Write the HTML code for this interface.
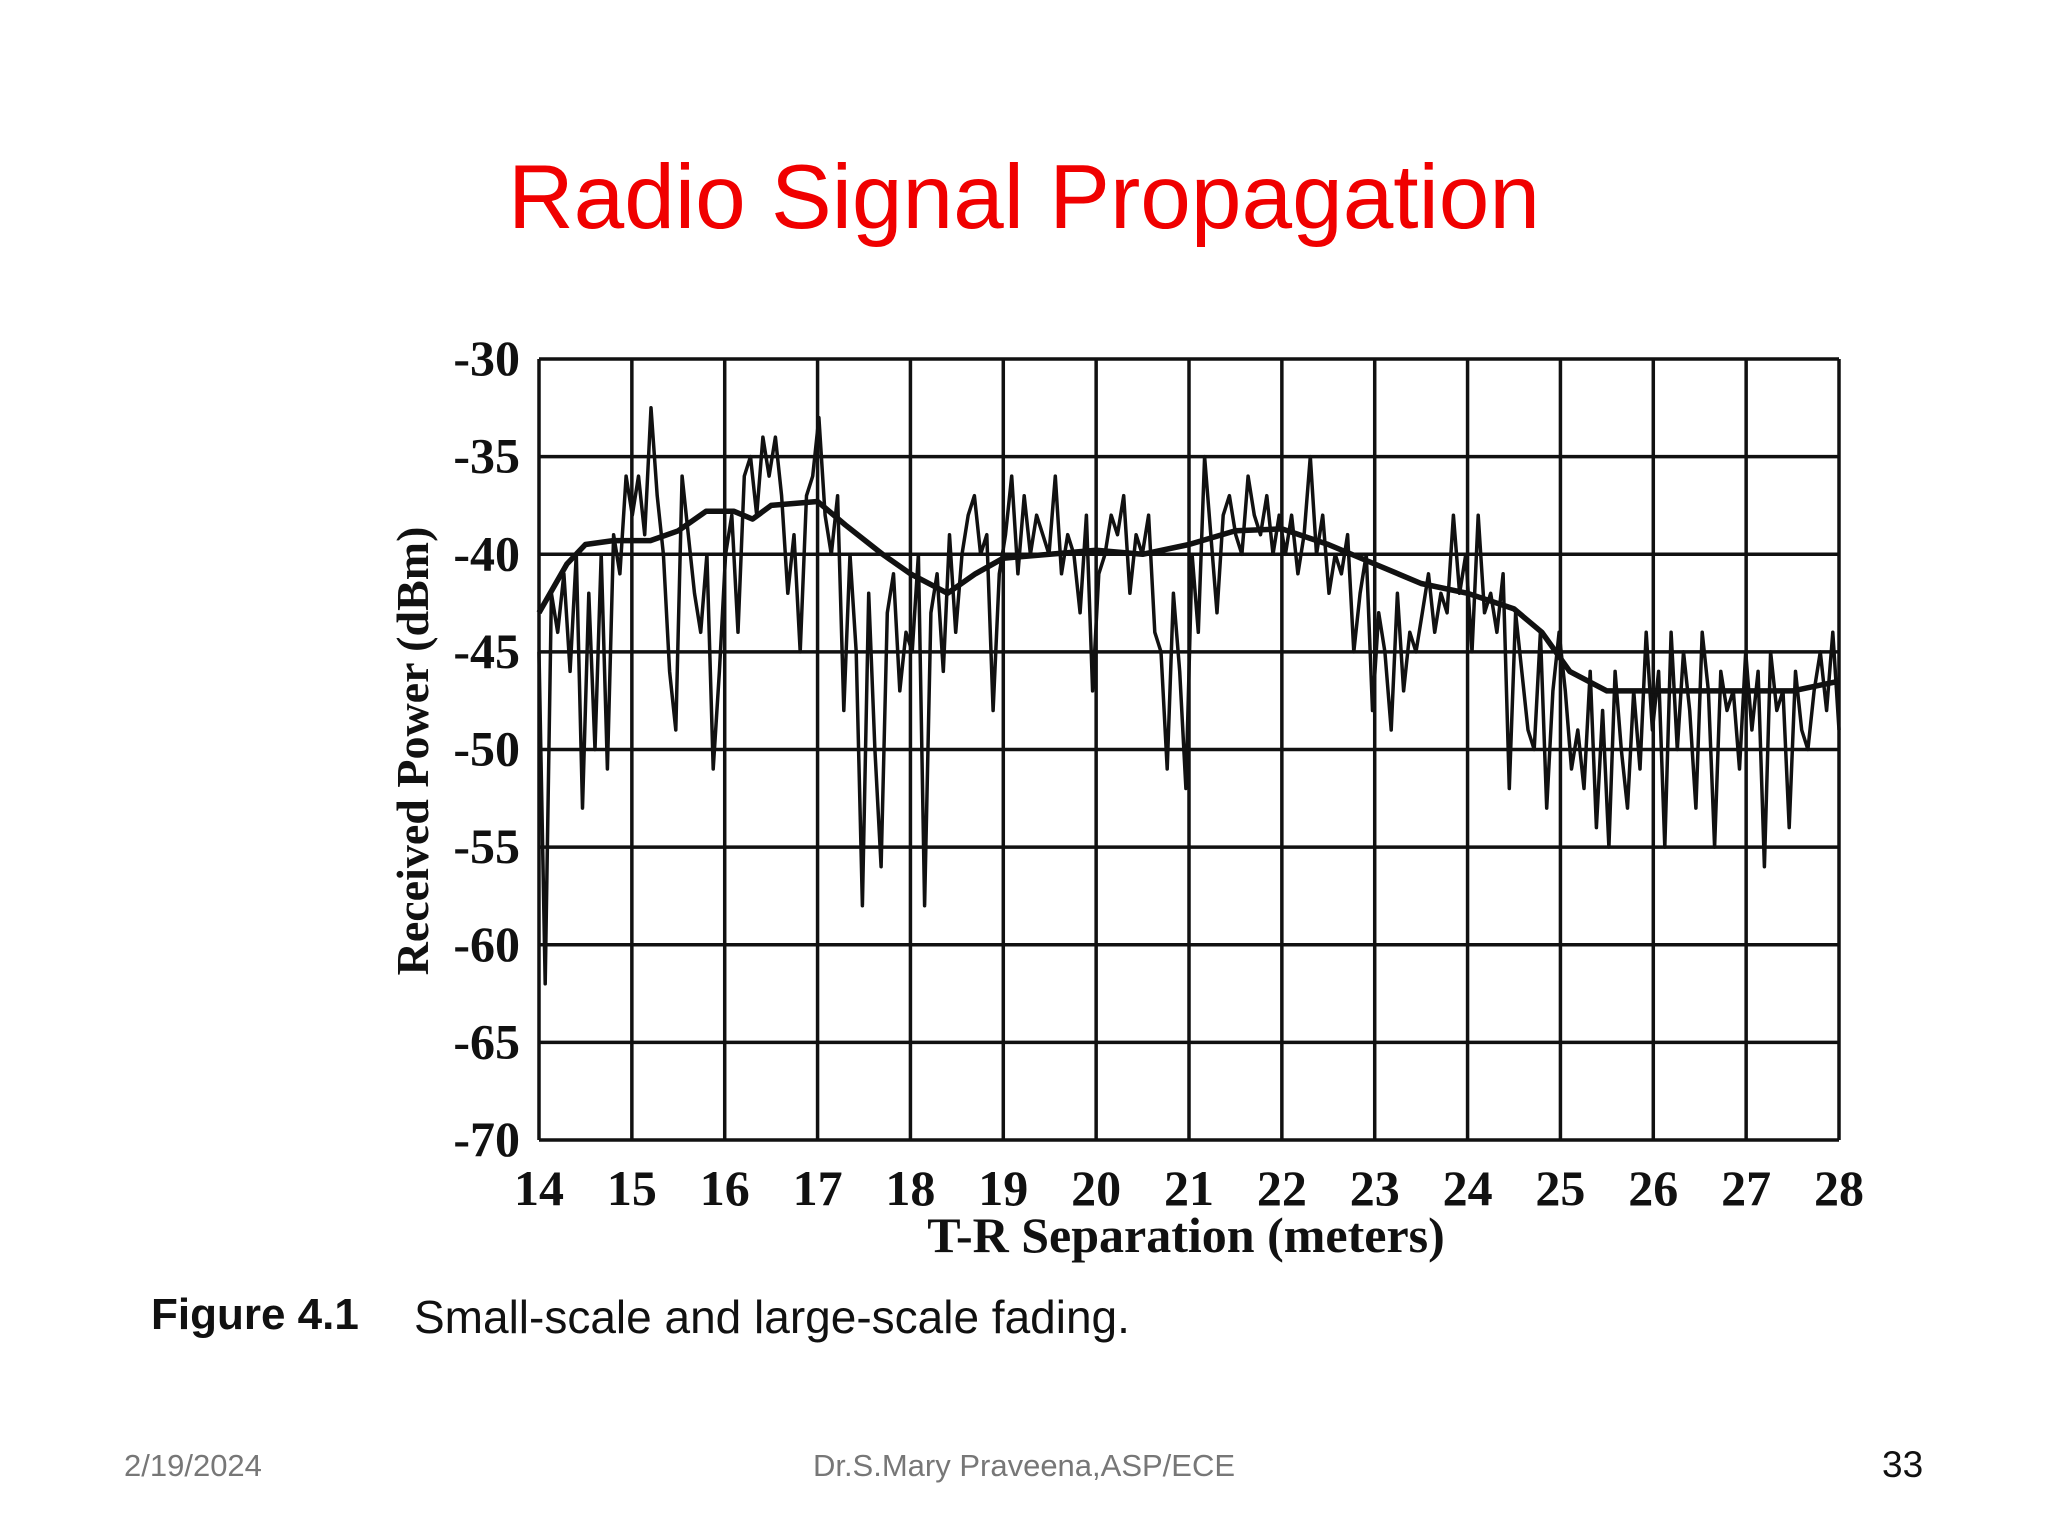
<!DOCTYPE html>
<html><head><meta charset="utf-8">
<style>
html,body{margin:0;padding:0;background:#fff;}
body{width:2048px;height:1536px;position:relative;overflow:hidden;font-family:"Liberation Sans",sans-serif;}
.abs{position:absolute;}
</style></head>
<body>
<div class="abs" style="left:0;width:2048px;top:143px;text-align:center;color:#f00000;font-size:91px;line-height:110px;">Radio Signal Propagation</div>
<svg id="chart" class="abs" style="left:0;top:0" width="2048" height="1536"></svg>
<div class="abs" style="left:151px;top:1290px;font-size:44px;font-weight:bold;color:#111;">Figure 4.1</div>
<div class="abs" style="left:414px;top:1290px;font-size:46px;color:#111;">Small-scale and large-scale fading.</div>
<div class="abs" style="left:124px;top:1448px;font-size:31px;color:#777;">2/19/2024</div>
<div class="abs" style="left:0;width:2048px;text-align:center;top:1448px;font-size:31px;color:#777;">Dr.S.Mary Praveena,ASP/ECE</div>
<div class="abs" style="left:1882px;top:1444px;font-size:37px;color:#111;">33</div>
<script>
const xTicks=[14,15,16,17,18,19,20,21,22,23,24,25,26,27,28];
const yTicks=[-30,-35,-40,-45,-50,-55,-60,-65,-70];
const fastPower=[-45,-62,-42,-44,-41,-46,-40,-53,-42,-50,-40,-51,-39,-41,-36,
-38,-36,-39,-32.5,-37,-40,-46,-49,-36,-39,-42,-44,-40,-51,-46,
-40,-38,-44,-36,-35,-38,-34,-36,-34,-37,-42,-39,-45,-37,-36,
-33,-38,-40,-37,-48,-40,-45,-58,-42,-50,-56,-43,-41,-47,-44,
-45,-40,-58,-43,-41,-46,-39,-44,-40,-38,-37,-40,-39,-48,-41,
-39,-36,-41,-37,-40,-38,-39,-40,-36,-41,-39,-40,-43,-38,-47,
-41,-40,-38,-39,-37,-42,-39,-40,-38,-44,-45,-51,-42,-46,-52,
-40,-44,-35,-39,-43,-38,-37,-39,-40,-36,-38,-39,-37,-40,-38,
-40,-38,-41,-39,-35,-40,-38,-42,-40,-41,-39,-45,-42,-40,-48,
-43,-45,-49,-42,-47,-44,-45,-43,-41,-44,-42,-43,-38,-42,-40,
-45,-38,-43,-42,-44,-41,-52,-43,-46,-49,-50,-44,-53,-47,-44,
-47,-51,-49,-52,-46,-54,-48,-55,-46,-50,-53,-47,-51,-44,-49,
-46,-55,-44,-50,-45,-48,-53,-44,-47,-55,-46,-48,-47,-51,-45,
-49,-46,-56,-45,-48,-47,-54,-46,-49,-50,-47,-45,-48,-44,-49];
const meanDist=[14,14.3,14.5,14.8,15.2,15.5,15.8,16.1,16.3,16.5,17,17.3,17.7,18,18.4,18.7,19,19.5,20,20.5,21,21.5,22,22.5,23,23.5,24,24.5,24.8,25.1,25.5,26,26.5,27,27.5,28];
const meanPower=[-43,-40.5,-39.5,-39.3,-39.3,-38.8,-37.8,-37.8,-38.2,-37.5,-37.3,-38.5,-40,-41,-42,-41,-40.2,-40,-39.8,-40,-39.5,-38.8,-38.7,-39.5,-40.5,-41.5,-42,-42.8,-44,-46,-47,-47,-47,-47,-47,-46.5];

const svg=document.getElementById('chart');
const NS='http://www.w3.org/2000/svg';
const L=539,R=1839,T=359,B=1140;
const X=v=>L+(v-14)/(28-14)*(R-L);
const Y=v=>T+(v+30)/(-70+30)*(B-T);
function mk(t,a){const e=document.createElementNS(NS,t);for(const k in a)e.setAttribute(k,a[k]);svg.appendChild(e);return e;}
xTicks.forEach(v=>{
  const g=mk('line',{x1:X(v),x2:X(v),y1:T,y2:B,stroke:'#111','stroke-width':3.5});
  
  
  const t=mk('text',{x:X(v),y:1205,'text-anchor':'middle','font-family':'Liberation Serif, serif','font-weight':'bold','font-size':50,fill:'#111'});
  t.textContent=v;
  
  
});
yTicks.forEach(v=>{
  const g=mk('line',{x1:L,x2:R,y1:Y(v),y2:Y(v),stroke:'#111','stroke-width':3.5});
  
  
  const t=mk('text',{x:520,y:Y(v)+16,'text-anchor':'end','font-family':'Liberation Serif, serif','font-weight':'bold','font-size':50,fill:'#111'});
  t.textContent=v;
  
  
});
const n=fastPower.length;
const fp=fastPower.map((v,i)=>X(14+i*14/(n-1)).toFixed(1)+','+Y(v).toFixed(1)).join(' ');
const f=mk('polyline',{points:fp,fill:'none',stroke:'#111','stroke-width':3.5,'stroke-linejoin':'round'});


const mp=meanPower.map((v,i)=>X(meanDist[i]).toFixed(1)+','+Y(v).toFixed(1)).join(' ');
const m=mk('polyline',{points:mp,fill:'none',stroke:'#111','stroke-width':5.5,'stroke-linejoin':'round'});


const xt=mk('text',{x:1186,y:1252,'text-anchor':'middle','font-family':'Liberation Serif, serif','font-weight':'bold','font-size':50,fill:'#111'});
xt.textContent='T-R Separation (meters)';


const yt=mk('text',{x:0,y:0,transform:'translate(428,751) rotate(-90)','text-anchor':'middle','font-family':'Liberation Serif, serif','font-weight':'bold','font-size':46,fill:'#111'});
yt.textContent='Received Power (dBm)';


</script>
</body></html>
